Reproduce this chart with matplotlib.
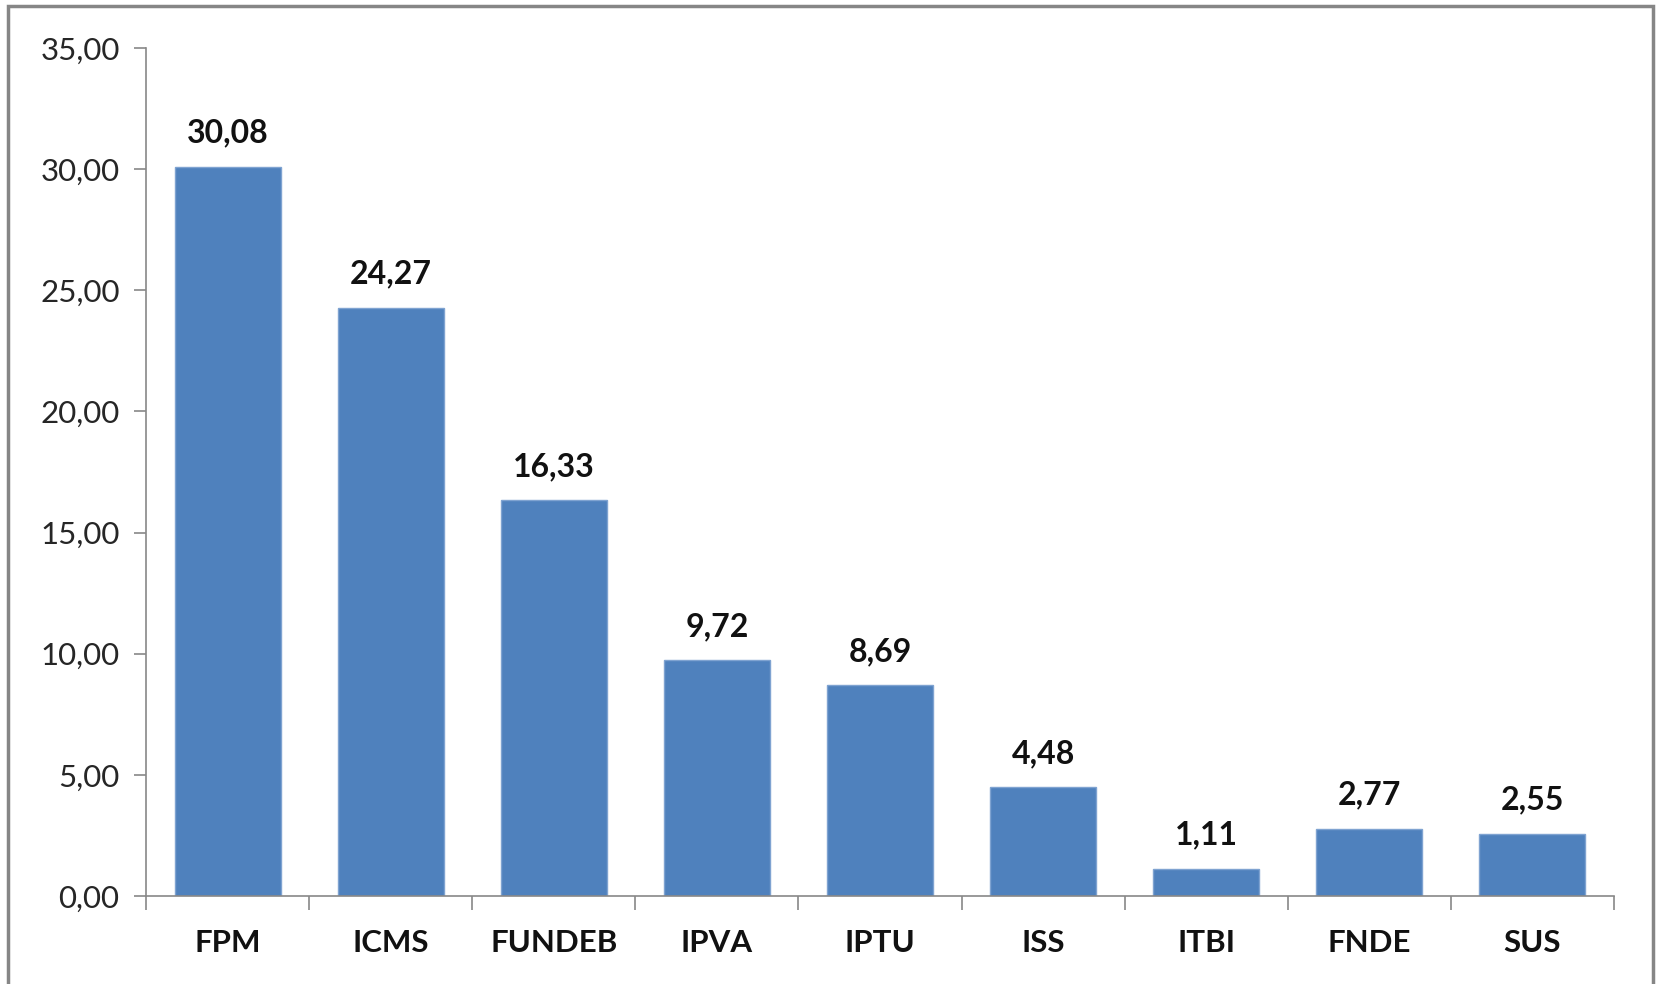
import matplotlib
matplotlib.use("Agg")
import matplotlib.pyplot as plt
from matplotlib.patches import Rectangle

categories = ['FPM', 'ICMS', 'FUNDEB', 'IPVA', 'IPTU', 'ISS', 'ITBI', 'FNDE', 'SUS']
values = [30.08, 24.27, 16.33, 9.72, 8.69, 4.48, 1.11, 2.77, 2.55]
yticks = [0, 5, 10, 15, 20, 25, 30, 35]

plt.rcParams['font.family'] = ['Lato', 'DejaVu Sans']

fig = plt.figure(figsize=(16.57, 9.84), dpi=100)
ax = fig.add_axes([146 / 1657, 1 - 896 / 984, (1614 - 146) / 1657, (896 - 48) / 984])

x = list(range(len(categories)))
ax.bar(x, values, width=0.65, color='#4F81BD', edgecolor='#7FA3D1', linewidth=1)

# value labels, comma decimal
for xi, v in zip(x, values):
    ax.annotate(f'{v:.2f}'.replace('.', ','), (xi, v), xytext=(0, 14),
                textcoords='offset points', ha='center', va='bottom',
                fontsize=23, fontweight='bold', color='#111111')

ax.set_xlim(-0.5, len(categories) - 0.5)
ax.set_ylim(0, 35)
ax.set_yticks(yticks)
ax.set_yticklabels([f'{t:.2f}'.replace('.', ',') for t in yticks], fontsize=22.5, color='#262626')
ax.tick_params(axis='y', length=9, width=1.2, color='#888888', pad=10)

# category labels in the middle, ticks on the boundaries
ax.set_xticks(x)
ax.set_xticklabels(categories, fontsize=22.5, fontweight='bold', color='#111111')
ax.tick_params(axis='x', which='major', length=0, pad=24)
ax.set_xticks([i - 0.5 for i in range(len(categories) + 1)], minor=True)
ax.tick_params(axis='x', which='minor', length=10, width=1.2, color='#888888')

for side in ['top', 'right']:
    ax.spines[side].set_visible(False)
for side in ['left', 'bottom']:
    ax.spines[side].set_color('#888888')
    ax.spines[side].set_linewidth(1.2)

# outer chart border
fig.patches.append(Rectangle((8 / 1657, -0.05), (1653 - 8) / 1657, 1.05 - 6 / 984,
                             transform=fig.transFigure, fill=False,
                             edgecolor='#868686', linewidth=2.5))

fig.savefig('out.png', dpi=100)
